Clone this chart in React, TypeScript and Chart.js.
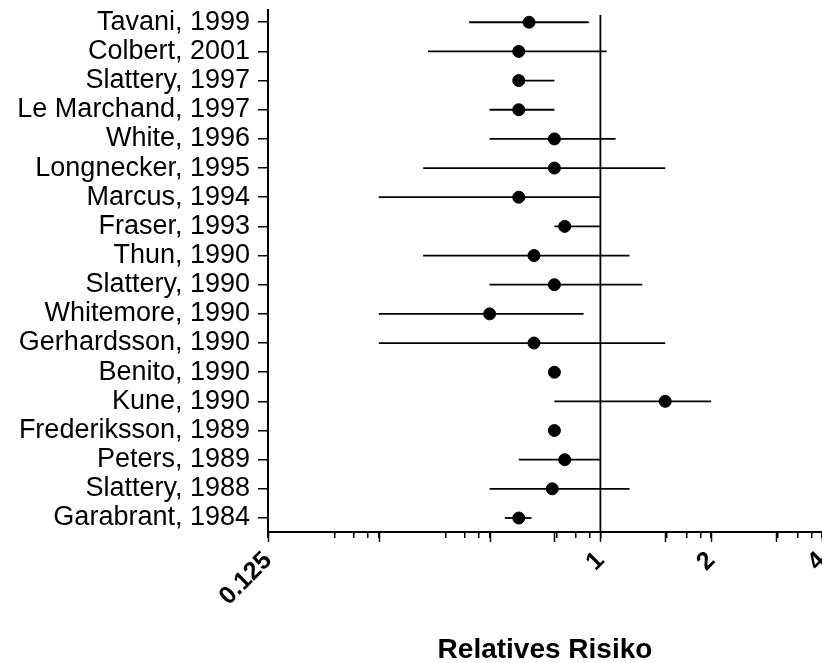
import React, { useEffect, useRef } from "react";
import { Chart, registerables } from "chart.js";

Chart.register(...registerables);

const studies = [
  "Tavani, 1999", "Colbert, 2001", "Slattery, 1997", "Le Marchand, 1997", "White, 1996",
  "Longnecker, 1995", "Marcus, 1994", "Fraser, 1993", "Thun, 1990", "Slattery, 1990",
  "Whitemore, 1990", "Gerhardsson, 1990", "Benito, 1990", "Kune, 1990", "Frederiksson, 1989",
  "Peters, 1989", "Slattery, 1988", "Garabrant, 1984",
];
const rr = [0.64, 0.6, 0.6, 0.6, 0.75, 0.75, 0.6, 0.8, 0.66, 0.75, 0.5, 0.66, 0.75, 1.5, 0.75, 0.8, 0.74, 0.6];
const ciLow = [0.44, 0.34, 0.59, 0.5, 0.5, 0.33, 0.25, 0.75, 0.33, 0.5, 0.25, 0.25, 0.75, 0.75, 0.75, 0.6, 0.5, 0.55];
const ciHigh = [0.93, 1.04, 0.75, 0.75, 1.1, 1.5, 1.0, 1.0, 1.2, 1.3, 0.9, 1.5, 0.75, 2.0, 0.75, 1.0, 1.2, 0.65];

const xMin = 0.125;
const xMax = 4;
const xMajorTicks = [0.125, 0.25, 0.5, 1, 2, 4];
const xLongTicks = [0.75, 1.5, 3];
const xMinorSteps = [4, 6, 8];
const xLabeled = [0.125, 1, 2, 4];
const refValue = 1;
const xTitle = "Relatives Risiko";

const FONT = '"Liberation Sans", Arial, sans-serif';

export default function App() {
  const ref = useRef<HTMLCanvasElement | null>(null);

  useEffect(() => {
    document.body.style.margin = "0";
    const n = studies.length;
    const rowY = (i: number) => n - i;
    const datasets: any[] = [];
    studies.forEach((_, i) => {
      datasets.push({
        type: "line",
        data: [
          { x: ciLow[i], y: rowY(i) },
          { x: ciHigh[i], y: rowY(i) },
        ],
        borderColor: "#000",
        borderWidth: 1.8,
        pointRadius: 0,
        fill: false,
      });
    });
    datasets.push({
      type: "line",
      data: [
        { x: refValue, y: n + 0.25 },
        { x: refValue, y: 0.52 },
      ],
      borderColor: "#000",
      borderWidth: 1.8,
      pointRadius: 0,
      fill: false,
    });
    datasets.push({
      type: "scatter",
      data: rr.map((v, i) => ({ x: v, y: rowY(i) })),
      backgroundColor: "#000",
      borderColor: "#000",
      pointRadius: 6,
      pointHoverRadius: 6,
    });

    const minorTicks: number[] = [];
    for (let k = -3; k < 2; k++) {
      xMinorSteps.forEach((m) => minorTicks.push(Math.pow(2, k + Math.log10(m / 10) + 1)));
    }
    const allXTicks = [...xMajorTicks, ...minorTicks].sort((a, b) => a - b);

    const longTickPlugin = {
      id: "longTicks",
      afterDraw(chart: any) {
        const ctx = chart.ctx;
        const xs = chart.scales.x;
        const y0 = chart.chartArea.bottom;
        ctx.save();
        ctx.strokeStyle = "#000";
        ctx.lineWidth = 1.5;
        [...xMajorTicks, ...xLongTicks].forEach((v) => {
          const px = Math.round(xs.getPixelForValue(v)) + 0.5;
          ctx.beginPath();
          ctx.moveTo(px, y0);
          ctx.lineTo(px, y0 + 10);
          ctx.stroke();
        });
        ctx.restore();
      },
    };

    const chart = new Chart(ref.current as HTMLCanvasElement, {
      type: "scatter",
      data: { datasets },
      options: {
        animation: false,
        responsive: false,
        events: [],
        layout: { autoPadding: false, padding: { top: 10, left: 0, right: 0, bottom: 0 } },
        plugins: { legend: { display: false }, tooltip: { enabled: false } },
        scales: {
          x: {
            type: "logarithmic",
            min: xMin,
            max: xMax,
            afterBuildTicks: (s: any) => {
              s.ticks = allXTicks.map((v) => ({ value: v }));
            },
            afterFit: (s: any) => {
              s.height = 131;
              s.paddingLeft = 0;
              s.paddingRight = 0;
            },
            border: { display: true, color: "#000", width: 2 },
            grid: { display: true, drawOnChartArea: false, drawTicks: true, tickLength: 6, color: "#000", lineWidth: 1.5 },
            ticks: {
              autoSkip: false,
              minRotation: 45,
              maxRotation: 45,
              padding: 8,
              color: "#000",
              font: { family: FONT, size: 25, weight: "bold" },
              callback: (v: any) => (xLabeled.includes(Number(v)) ? String(v) : ""),
            },
            title: {
              display: true,
              text: xTitle,
              color: "#000",
              font: { family: FONT, size: 28, weight: "bold" },
              padding: { top: 0, bottom: -4 },
            },
          },
          y: {
            type: "linear",
            min: 0.52,
            max: n + 0.42,
            afterBuildTicks: (s: any) => {
              s.ticks = studies.map((_, i) => ({ value: rowY(i) }));
            },
            afterFit: (s: any) => {
              s.width = 268;
              s.paddingTop = 0;
              s.paddingBottom = 0;
            },
            border: { display: true, color: "#000", width: 2 },
            grid: { display: true, drawOnChartArea: false, drawTicks: true, tickLength: 10, color: "#000", lineWidth: 1.5 },
            ticks: {
              autoSkip: false,
              padding: 8,
              color: "#000",
              font: { family: FONT, size: 27 },
              callback: (v: any) => {
                const i = n - Number(v);
                return studies[i] ?? "";
              },
            },
          },
        },
      },
      plugins: [longTickPlugin],
    } as any);
    return () => chart.destroy();
  }, []);

  return (
    <div style={{ width: 822, height: 663 }}>
      <canvas ref={ref} width={822} height={663} style={{ display: "block" }} />
    </div>
  );
}
